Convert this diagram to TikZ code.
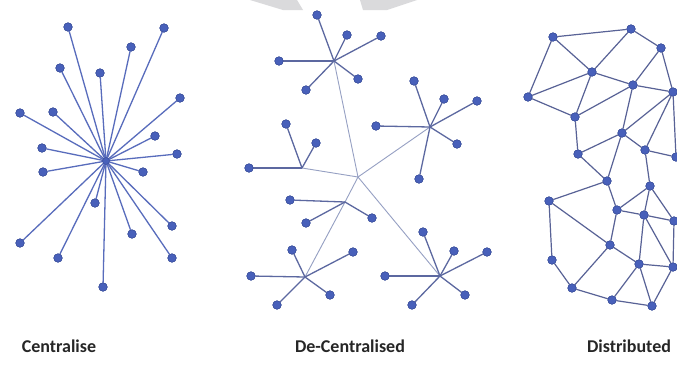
\documentclass[tikz,border=0pt]{standalone}
\usepackage{fontspec}
\setmainfont{Carlito}
\begin{document}
\begin{tikzpicture}[x=1pt,y=-1pt,
  dot/.style={circle,fill=nodeblue,draw=nodeedge,line width=0.4pt,inner sep=0pt,minimum size=8.5pt},
  spoke/.style={draw=spokeblue,line width=1.3pt},
  twig/.style={draw=twiggray,line width=1.3pt},
  trunk/.style={draw=trunkgray,line width=0.9pt},
  mesh/.style={draw=meshgray,line width=1.2pt},
  caption/.style={font=\bfseries\fontsize{18}{18}\selectfont,text=black!85,anchor=base}]
\definecolor{nodeblue}{RGB}{72,96,186}
\definecolor{nodeedge}{RGB}{55,75,150}
\definecolor{spokeblue}{RGB}{88,108,188}
\definecolor{twiggray}{RGB}{92,104,160}
\definecolor{trunkgray}{RGB}{150,160,195}
\definecolor{meshgray}{RGB}{88,98,150}
\definecolor{markgray}{RGB}{218,218,220}

\useasboundingbox (0,0) rectangle (677,378);
\fill[white] (0,0) rectangle (677,378);

% faint banner shapes along the top edge
\fill[markgray] (250,0) -- (297,0) -- (303,10) -- (283,10) -- cycle;
\fill[markgray] (360,0) -- (417,0) -- (387,10) -- (363,10) -- cycle;

% ---------- centralised star ----------
\coordinate (c0) at (106,161);
\foreach \n/\p in {1/{68,27},2/{164,28},3/{131,47},4/{60,68},5/{100,73},
  6/{180,98},7/{20,113},8/{53,112},9/{155,136},10/{42,148},11/{177,154},
  12/{43,172},13/{143,172},14/{95,203},15/{172,226},16/{20,243},
  17/{132,234},18/{58,258},19/{172,258},20/{103,287}}{
  \node[dot] (c\n) at (\p) {};
}
\foreach \n in {1,...,20}{ \draw[spoke] (c0) -- (c\n); }
\foreach \n in {1,...,20}{ \node[dot] at (c\n) {}; }
\node[dot,minimum size=7pt] (chub) at (c0) {};

% ---------- decentralised tree ----------
\coordinate (dc) at (358,177);
\coordinate (dt) at (334,61);
\coordinate (dr) at (430,127);
\coordinate (dl) at (302,168);
\coordinate (dm) at (345,202);
\coordinate (dbl) at (305,277);
\coordinate (dbr) at (440,276);
\draw[trunk] (dc) -- (dt);
\draw[trunk] (dc) -- (dr);
\draw[trunk] (dc) -- (dl);
\draw[trunk] (dc) -- (dm) -- (dbl);
\draw[trunk] (dc) -- (dbr);
\foreach \h/\n/\p in {
  dt/1/{317,15},dt/2/{347,35},dt/3/{381,36},dt/4/{279,61},dt/5/{358,79},dt/6/{306,90},
  dr/1/{414,81},dr/2/{444,99},dr/3/{477,101},dr/4/{376,126},dr/5/{457,144},dr/6/{419,179},
  dl/1/{286,124},dl/2/{316,143},dl/3/{249,168},
  dm/1/{290,200},dm/2/{306,223},dm/3/{372,218},
  dbl/1/{292,250},dbl/2/{353,252},dbl/3/{251,276},dbl/4/{330,295},dbl/5/{277,305},
  dbr/1/{423,232},dbr/2/{454,251},dbr/3/{487,252},dbr/4/{385,276},dbr/5/{465,295},dbr/6/{412,305}}{
  \node[dot] (\h-\n) at (\p) {};
  \draw[twig] (\h) -- (\h-\n);
  \node[dot] at (\h-\n) {};
}

% ---------- distributed mesh ----------
\foreach \n/\p in {A/{553,37},B/{631,29},C/{661,48},D/{592,72},E/{633,85},
  F/{673,92},G/{528,97},H/{575,117},I/{622,133},J/{645,150},K/{578,154},
  L/{676,157},M/{607,181},N/{650,186},O/{549,201},P/{617,210},Q/{644,215},
  R/{674,221},S/{610,245},T/{552,260},U/{639,264},V/{673,267},W/{572,288},
  X/{612,300},Y/{652,306}}{
  \node[dot] (m\n) at (\p) {};
}
\foreach \a/\b in {A/B,A/D,A/G,B/D,B/C,C/E,C/F,D/E,E/F,D/G,D/H,G/H,H/E,
  E/I,F/I,F/J,F/L,H/K,K/I,I/M,K/M,I/J,J/L,J/N,M/O,M/P,N/P,N/Q,P/Q,Q/R,
  Q/U,Q/V,N/R,O/S,O/T,P/S,T/W,S/W,S/U,U/V,U/X,U/Y,W/X,X/Y,V/Y,R/V}{
  \draw[mesh] (m\a) -- (m\b);
}
\foreach \n in {A,B,C,D,E,F,G,H,I,J,K,L,M,N,O,P,Q,R,S,T,U,V,W,X,Y}{
  \node[dot] at (m\n) {};
}

% ---------- captions ----------
\node[caption] (capc) at (59,352) {Centralise};
\node[caption] (capd) at (350,352) {De-Centralised};
\node[caption] (capm) at (629,352) {Distributed};
\end{tikzpicture}
\end{document}
